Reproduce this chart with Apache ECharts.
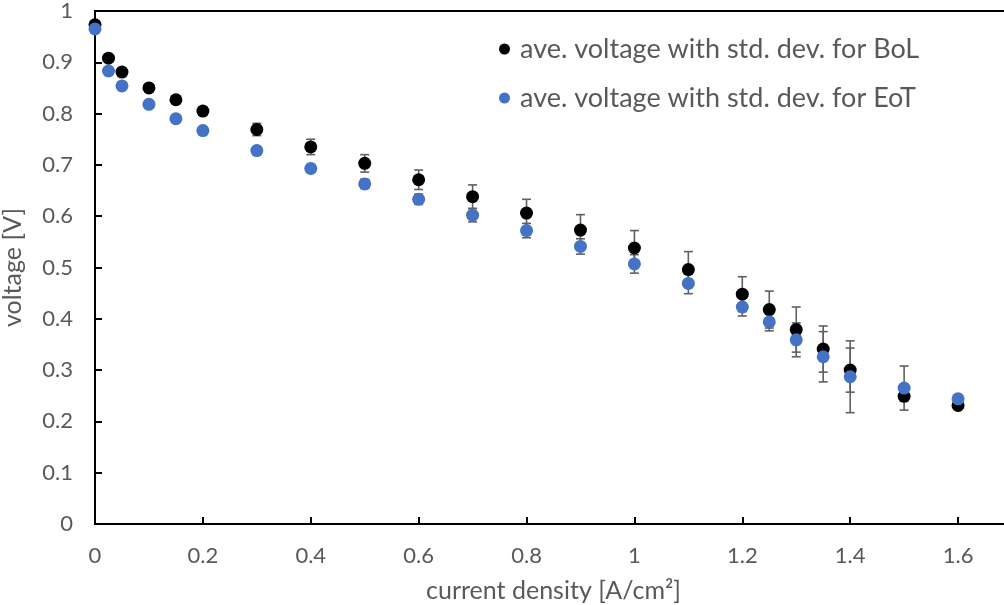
<!DOCTYPE html>
<html><head><meta charset="utf-8">
<script src="https://cdn.jsdelivr.net/npm/echarts@6/dist/echarts.min.js"></script>
<style>html,body{margin:0;padding:0;background:#fff}#c{width:1004px;height:605px}</style>
</head><body><div id="c"></div>
<script>
const xVals = [0,0.025,0.05,0.1,0.15,0.2,0.3,0.4,0.5,0.6,0.7,0.8,0.9,1.0,1.1,1.2,1.25,1.3,1.35,1.4,1.5,1.6];
const bol = [0.973,0.908,0.881,0.850,0.827,0.805,0.769,0.735,0.703,0.671,0.638,0.606,0.573,0.538,0.496,0.448,0.418,0.379,0.341,0.300,0.249,0.231];
const bolStd = [0.003,0.004,0.004,0.005,0.005,0.008,0.012,0.015,0.017,0.019,0.023,0.027,0.030,0.034,0.035,0.034,0.036,0.044,0.045,0.043,0.010,0.005];
const eot = [0.965,0.883,0.854,0.818,0.790,0.767,0.728,0.693,0.663,0.633,0.602,0.572,0.541,0.507,0.469,0.423,0.394,0.359,0.326,0.287,0.265,0.244];
const eotStd = [0.003,0.004,0.004,0.005,0.005,0.006,0.007,0.008,0.009,0.010,0.013,0.014,0.015,0.018,0.020,0.0175,0.0175,0.033,0.049,0.070,0.043,0.005];
const nameBoL = 'ave. voltage with std. dev. for BoL';
const nameEoT = 'ave. voltage with std. dev. for EoT';

const FONT = 'Lato';
const GREY = '#595959';

function errData(vals, std){ return xVals.map((x,i)=>[x, vals[i]-std[i], vals[i]+std[i]]); }
function errSeries(vals, std){
  return {
    type:'custom', silent:true, z:2,
    data: errData(vals, std),
    encode:{x:0, y:[1,2]},
    renderItem:function(params, api){
      const x = api.value(0);
      const lo = api.coord([x, api.value(1)]);
      const hi = api.coord([x, api.value(2)]);
      const hw = 4.5;
      const st = {stroke:'#606060', lineWidth:1.6};
      return {type:'group', children:[
        {type:'line', shape:{x1:lo[0],y1:lo[1],x2:hi[0],y2:hi[1]}, style:st},
        {type:'line', shape:{x1:lo[0]-hw,y1:lo[1],x2:lo[0]+hw,y2:lo[1]}, style:st},
        {type:'line', shape:{x1:hi[0]-hw,y1:hi[1],x2:hi[0]+hw,y2:hi[1]}, style:st}
      ]};
    }
  };
}

const chart = echarts.init(document.getElementById('c'), null, {renderer:'canvas'});
chart.setOption({
  animation:false,
  backgroundColor:'#fff',
  grid:{left:95, top:11, width:917, height:513, outerBoundsMode:'none', containLabel:false,
        show:true, borderColor:'#000', borderWidth:2},
  legend:{
    data:[{name:nameBoL, icon:'circle'},{name:nameEoT, icon:'circle'}],
    orient:'vertical', left:494, top:29, itemWidth:11, itemHeight:11, itemGap:19,
    textStyle:{fontFamily:FONT, fontSize:27, color:GREY, lineHeight:30, padding:[0,0,0,5]}
  },
  xAxis:{
    type:'value', min:0, max:1.7, interval:0.2,
    name:'current density [A/cm²]', nameLocation:'middle', nameGap:54,
    nameTextStyle:{fontFamily:FONT, fontSize:25, color:GREY},
    axisLine:{lineStyle:{color:'#000', width:2}},
    axisTick:{inside:true, length:7, lineStyle:{color:'#000', width:2}},
    axisLabel:{fontFamily:FONT, fontSize:22, color:GREY, margin:21, showMaxLabel:false},
    splitLine:{show:false}
  },
  yAxis:{
    type:'value', min:0, max:1, interval:0.1,
    name:'voltage [V]', nameLocation:'middle', nameGap:70,
    nameTextStyle:{fontFamily:FONT, fontSize:25, color:GREY},
    axisLine:{lineStyle:{color:'#000', width:2}},
    axisTick:{inside:true, length:7, lineStyle:{color:'#000', width:2}},
    axisLabel:{fontFamily:FONT, fontSize:22, color:GREY, margin:22},
    splitLine:{show:false}
  },
  series:[
    errSeries(bol, bolStd),
    {name:nameBoL, type:'scatter', z:3, symbolSize:13, itemStyle:{color:'#000', opacity:1},
     data:xVals.map((x,i)=>[x,bol[i]])},
    errSeries(eot, eotStd),
    {name:nameEoT, type:'scatter', z:4, symbolSize:13, itemStyle:{color:'#4472C4', opacity:1},
     data:xVals.map((x,i)=>[x,eot[i]])}
  ]
});
</script></body></html>
